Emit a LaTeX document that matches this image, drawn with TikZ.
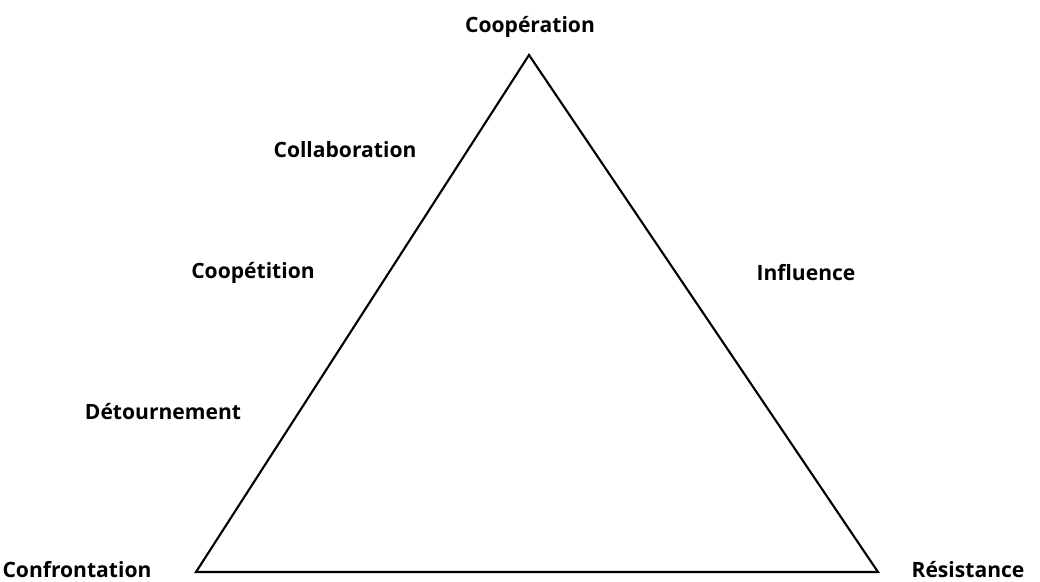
\documentclass[tikz,border=0pt]{standalone}
\usepackage{fontspec}
\setmainfont{Open Sans}
\begin{document}
\begin{tikzpicture}[x=0.02cm, y=-0.02cm]
\tikzstyle{lbl}=[draw=none, fill=none, font=\fontsize{12}{14}\selectfont\bfseries, inner sep=0pt]
\useasboundingbox (0,0) rectangle (1040,581);

\coordinate (top) at (529,55);
\coordinate (left) at (196,572);
\coordinate (right) at (878,572);
\draw[line width=1.2pt, line join=miter] (top) -- (right) -- (left) -- cycle;

\node[lbl] (coop) at (530,27) {Coopération};
\node[lbl] (collab) at (345,150) {Collaboration};
\node[lbl] (coopet) at (253,273) {Coopétition};
\node[lbl] (infl) at (806,273) {Influence};
\node[lbl] (detour) at (163,412) {Détournement};
\node[lbl] (confr) at (77,570) {Confrontation};
\node[lbl] (resist) at (968,570) {Résistance};
\end{tikzpicture}
\end{document}
